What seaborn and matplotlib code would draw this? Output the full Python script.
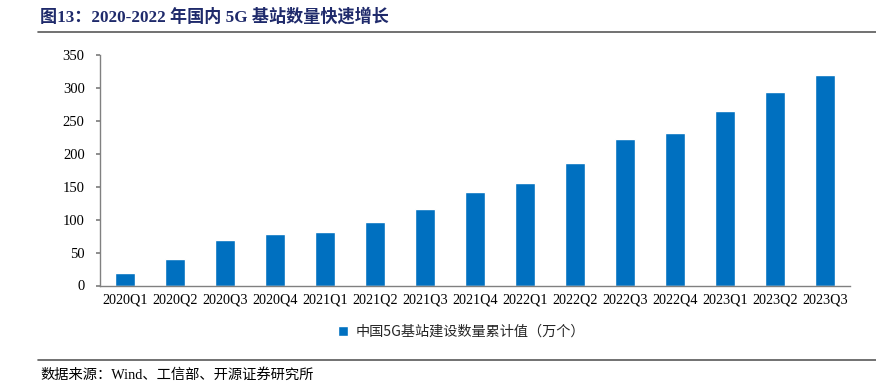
import matplotlib
matplotlib.use("Agg")
import matplotlib.pyplot as plt
import seaborn as sns
import pandas as pd
from matplotlib.lines import Line2D
from matplotlib.ticker import FixedLocator

quarters = ["2020Q1", "2020Q2", "2020Q3", "2020Q4", "2021Q1", "2021Q2", "2021Q3",
            "2021Q4", "2022Q1", "2022Q2", "2022Q3", "2022Q4", "2023Q1", "2023Q2", "2023Q3"]
stations = [19.0, 40.8, 69.0, 77.8, 81.9, 96.1, 115.9, 142.5, 155.9, 185.4,
            222.0, 231.2, 264.4, 293.7, 319.2]
series_name = "中国5G基站建设数量累计值（万个）"
title_text = "图13：2020-2022 年国内 5G 基站数量快速增长"
source_text = "数据来源：Wind、工信部、开源证券研究所"
yticks = [0, 50, 100, 150, 200, 250, 300, 350]

sns.set_theme(style="white")
plt.rcParams['font.family'] = ['Liberation Serif', 'Noto Sans CJK SC', 'DejaVu Sans']

df = pd.DataFrame({"quarter": quarters, "value": stations})

fig = plt.figure(figsize=(8.76, 3.89), dpi=100)
ax = fig.add_axes([100/876, 1-285.5/389, 750/876, 230.5/389])

sns.barplot(data=df, x="quarter", y="value", color="#0070C0", width=0.4,
            saturation=1, ax=ax, label=series_name)

ax.set_xlim(-0.5, len(quarters) - 0.5)
ax.set_ylim(0, 350)
ax.set_yticks(yticks)
ax.set_xlabel("")
ax.set_ylabel("")
for s in ["top", "right"]:
    ax.spines[s].set_visible(False)
for s in ["left", "bottom"]:
    ax.spines[s].set_color("#808080")
    ax.spines[s].set_linewidth(1.0)

ax.tick_params(axis="x", which="major", length=0, labelsize=10.2, pad=6, colors="#000000")
ax.xaxis.set_minor_locator(FixedLocator([i + 0.5 for i in range(len(quarters))]))
ax.tick_params(axis="x", which="minor", length=5, direction="in", color="#808080", width=1)
ax.tick_params(axis="y", which="major", length=3, direction="out", labelsize=10.5,
               color="#808080", pad=8, left=True)
for lbl in ax.get_xticklabels() + ax.get_yticklabels():
    lbl.set_color("#000000")

handles, labels = ax.get_legend_handles_labels()
ax.legend(handles=handles, labels=labels, loc="center", bbox_to_anchor=(0.482, -0.2),
          frameon=False, handlelength=0.7, handleheight=0.7,
          handletextpad=0.5, prop={'family': ['Noto Sans CJK SC'], 'size': 10.2})

fig.text(40/876, 1-17/389, title_text, fontsize=12.3, fontweight="bold",
         color="#1F2A6B", va="center", ha="left")
fig.add_artist(Line2D([38/876, 1.0], [1-32/389, 1-32/389], color="#595959", lw=1.2,
                      transform=fig.transFigure))
fig.add_artist(Line2D([38/876, 1.0], [1-360/389, 1-360/389], color="#595959", lw=1.2,
                      transform=fig.transFigure))
fig.text(40/876, 1-375/389, source_text, fontsize=10.3, color="#000000",
         va="center", ha="left", family=['Liberation Serif', 'Noto Sans CJK SC'])

fig.savefig("out.png", dpi=100)
